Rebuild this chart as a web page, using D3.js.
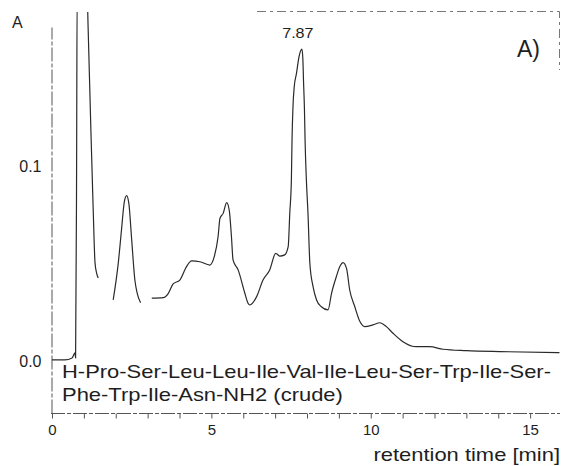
<!DOCTYPE html>
<html>
<head>
<meta charset="utf-8">
<script src="https://cdn.jsdelivr.net/npm/d3@7"></script>
<style>
  html, body { margin: 0; padding: 0; background: #fff; }
  svg { display: block; font-family: "Liberation Sans", Arial, Helvetica, sans-serif; }
</style>
</head>
<body>
<svg id="chart"></svg>
<script>
// chromatogram trace (null = where the scan lost the line)
const retentionTime = [
  0.00, 0.40, 0.63, 0.72, 0.74, 0.77, 0.79, 1.10, 1.13, 1.22, 1.29, 1.35, 1.40, 1.45,
  1.70,
  1.92, 2.08, 2.18, 2.27, 2.34, 2.41, 2.50, 2.60, 2.67, 2.78,
  2.95,
  3.13, 3.49, 3.65, 3.80, 4.01, 4.22, 4.38, 4.64, 4.95, 5.09, 5.21, 5.27, 5.37, 5.48,
  5.56, 5.63, 5.68, 5.84, 6.05, 6.15, 6.21, 6.42, 6.62, 6.83, 7.02, 7.15, 7.30, 7.41,
  7.46, 7.51, 7.53, 7.56, 7.60, 7.67, 7.75, 7.84, 7.87, 7.89, 7.92, 7.94, 7.98, 8.03,
  8.09, 8.19, 8.30, 8.45, 8.66, 8.77, 8.92, 9.03, 9.13, 9.24, 9.34, 9.50, 9.66, 9.81,
  10.07, 10.28, 10.49, 10.70, 11.01, 11.43, 11.85, 12.27, 13.00, 14.04, 15.92
];
const absorbance = [
  0.0005, 0.0005, 0.0015, 0.0041, 0.0015, 0.09, 0.19, 0.19, 0.173, 0.1185, 0.079, 0.0503, 0.0451, 0.0426,
  null,
  0.0313, 0.0503, 0.0672, 0.0817, 0.0848, 0.0810, 0.0621, 0.0415, 0.0349, 0.0299,
  null,
  0.0322, 0.0325, 0.0347, 0.0395, 0.0415, 0.0484, 0.0513, 0.0509, 0.0492, 0.0535, 0.0637, 0.0732, 0.0757, 0.0812,
  0.0774, 0.0637, 0.0518, 0.0467, 0.0347, 0.0296, 0.0287, 0.0330, 0.0415, 0.0467, 0.0552, 0.0538, 0.0544, 0.0586,
  0.0759, 0.0928, 0.1133, 0.1304, 0.1407, 0.1475, 0.1561, 0.160, 0.155, 0.144, 0.129, 0.113, 0.093, 0.076,
  0.050, 0.0381, 0.0313, 0.0278, 0.0262, 0.0347, 0.0432, 0.0484, 0.0504, 0.0475, 0.0364, 0.0278, 0.0202, 0.0176,
  0.0185, 0.0196, 0.0176, 0.0142, 0.0099, 0.0073, 0.0073, 0.0060, 0.0053, 0.0048, 0.0043
];

const xTicks = d3.range(0, 17);        // minor tick every minute
const xLabels = [0, 5, 10, 15];
const yTicks = [0.0, 0.1];
const peakLabel = {time: 7.87, value: 0.160, text: "7.87"};
const peptide = [
  "H-Pro-Ser-Leu-Leu-Ile-Val-Ile-Leu-Ser-Trp-Ile-Ser-",
  "Phe-Trp-Ile-Asn-NH2 (crude)"
];

const width = 561, height = 466;
const ink = "#1e1e1e";
const stretch = 1.22; // the scanned lettering is wider than Arial

const x = d3.scaleLinear([0, 16], [52, 562]);
const y = d3.scaleLinear([-0.0267, 0.1713], [413, 27]);

const svg = d3.select("#chart")
  .attr("width", width)
  .attr("height", height)
  .attr("viewBox", [0, 0, width, height]);

svg.append("defs").append("clipPath").attr("id", "plot")
  .append("rect").attr("x", 51).attr("y", 12).attr("width", 510).attr("height", 402);

// frame remains (top and right edge only survive in the scan)
svg.append("path")
  .attr("d", `M257,11.5H559.5V70`)
  .attr("fill", "none")
  .attr("stroke", "#777")
  .attr("stroke-width", 1)
  .attr("stroke-dasharray", "9 4 3 4");

// y axis
svg.append("g")
  .attr("transform", "translate(51.5,0)")
  .call(d3.axisLeft(y).tickValues(yTicks).tickSize(0).tickPadding(10).tickFormat(d3.format(".1f")).tickSizeOuter(0))
  .call(g => g.select(".domain").attr("stroke", "#555").attr("stroke-dasharray", "14 2 4 2"))
  .call(g => g.selectAll(".tick text").attr("font-size", 16).attr("fill", ink).attr("font-family", null));

svg.append("text")
  .attr("x", 12).attr("y", 28)
  .attr("font-size", 16).attr("fill", ink)
  .text("A");

// x axis
svg.append("g")
  .attr("transform", "translate(0,413.5)")
  .call(d3.axisBottom(x).tickValues(xTicks).tickSize(5).tickPadding(6).tickSizeOuter(0)
    .tickFormat(d => xLabels.includes(d) ? d : ""))
  .call(g => g.select(".domain").attr("stroke", "#555").attr("stroke-dasharray", "14 2 4 2").attr("d", "M51,0H560"))
  .call(g => g.selectAll(".tick line").attr("stroke", "#555"))
  .call(g => g.selectAll(".tick text").attr("font-size", 15).attr("fill", ink).attr("font-family", null));

svg.append("text")
  .attr("transform", `translate(560,461) scale(${stretch},1)`)
  .attr("text-anchor", "end")
  .attr("font-size", 18).attr("fill", ink)
  .text("retention time [min]");

// trace
const pts = retentionTime.map((t, i) => ({t, a: absorbance[i]}));
const line = d3.line()
  .defined(d => d.a != null)
  .x(d => x(d.t))
  .y(d => y(d.a))
  .curve(d3.curveMonotoneX);

svg.append("path")
  .datum(pts)
  .attr("clip-path", "url(#plot)")
  .attr("fill", "none")
  .attr("stroke", "#2a2a2a")
  .attr("stroke-width", 1.2)
  .attr("d", line);

// peak label
svg.append("text")
  .attr("transform", `translate(${x(peakLabel.time) - 5},${y(peakLabel.value) - 11}) scale(1.15,1)`)
  .attr("text-anchor", "middle")
  .attr("font-size", 14).attr("fill", ink)
  .text(peakLabel.text);

svg.append("text")
  .attr("x", 517).attr("y", 57)
  .attr("font-size", 23).attr("fill", ink)
  .text("A)");

// sample name
svg.append("g")
  .selectAll("text")
  .data(peptide)
  .join("text")
  .attr("transform", (d, i) => `translate(62,${378 + i * 23}) scale(${stretch},1)`)
  .attr("font-size", 18).attr("fill", ink)
  .text(d => d);
</script>
</body>
</html>
